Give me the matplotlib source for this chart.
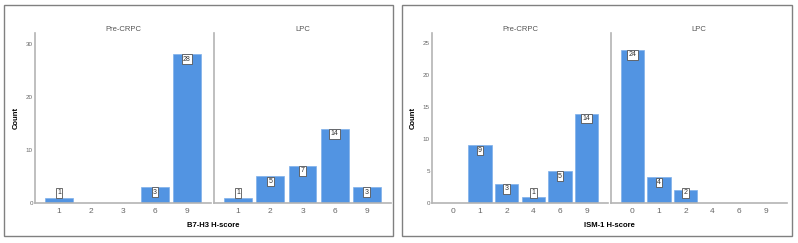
import matplotlib.pyplot as plt
from matplotlib.patches import Rectangle

plt.rcParams["font.family"] = ["Liberation Sans", "DejaVu Sans"]

# B7-H3 H-score counts
b7_cats = ["1", "2", "3", "6", "9"]
b7_pre = [1, 0, 0, 3, 28]
b7_lpc = [1, 5, 7, 14, 3]

# ISM-1 H-score counts
ism_cats = ["0", "1", "2", "4", "6", "9"]
ism_pre = [0, 9, 3, 1, 5, 14]
ism_lpc = [24, 4, 2, 0, 0, 0]

groups = ["Pre-CRPC", "LPC"]

BAR = "#5294e2"
SPINE = "#b4b4b4"
W, H = 798, 243
AX_TOP, AX_BOT = 33, 203

fig = plt.figure(figsize=(W / 100, H / 100), dpi=100)


def px_axes(x0, x1, y0, y1):
    return fig.add_axes([x0 / W, 1 - y1 / H, (x1 - x0) / W, (y1 - y0) / H])


def draw_panel(x_axes, cats, series, ymax, yticks, xlabel, bw, pad):
    px_per_unit = (AX_BOT - AX_TOP) / ymax
    for k, (xa, vals) in enumerate(zip(x_axes, series)):
        ax = px_axes(xa[0], xa[1], AX_TOP, AX_BOT)
        pos = list(range(len(cats)))
        ax.bar(pos, vals, width=bw, color=BAR, edgecolor="#7fb0ea", linewidth=0.5)
        for p, v in zip(pos, vals):
            if v > 0:
                # label sits just under the bar top, but never below ~10px above baseline
                off_px = max(-5, 10 - v * px_per_unit)
                ax.annotate(str(v), (p, v), xytext=(0, off_px * 0.72),
                            textcoords="offset points",
                            ha="center", va="center", fontsize=5, color="#333333",
                            bbox=dict(boxstyle="square,pad=0.2", fc="white",
                                      ec="#555555", lw=0.6))
        ax.set_xlim(-pad, len(cats) - 1 + pad)
        ax.set_ylim(0, ymax)
        ax.set_xticks(pos)
        ax.set_xticklabels(cats)
        ax.set_yticks(yticks)
        ax.tick_params(length=0, labelsize=6, colors="#666666", pad=3.5)
        ax.tick_params(axis="y", labelsize=4.5, pad=1.5)
        if k > 0:
            ax.set_yticklabels([])
        for s in ["top", "right"]:
            ax.spines[s].set_visible(False)
        for s in ["left", "bottom"]:
            ax.spines[s].set_color(SPINE)
            ax.spines[s].set_linewidth(1.2)
        ax.set_title(groups[k], fontsize=5.5, color="#555555", pad=1.5)
        ax.patch.set_alpha(0)
    mid = (x_axes[0][0] + x_axes[1][1]) / 2
    fig.text(mid / W, 1 - 225 / H, xlabel, ha="center", va="center",
             fontsize=5.5, fontweight="bold")
    fig.text((x_axes[0][0] - 19) / W, 1 - 118 / H, "Count", ha="center", va="center",
             rotation=90, fontsize=5.5, fontweight="bold")


draw_panel([(35, 211), (214, 391)], b7_cats, [b7_pre, b7_lpc], 32, [0, 10, 20, 30],
           "B7-H3 H-score", 0.87, 0.75)
draw_panel([(432, 608), (611, 787)], ism_cats, [ism_pre, ism_lpc], 26.6,
           [0, 5, 10, 15, 20, 25], "ISM-1 H-score", 0.87, 0.8)

for x0, x1 in [(4, 393), (402, 792)]:
    fig.patches.append(Rectangle((x0 / W, 1 - 236 / H), (x1 - x0) / W, 231 / H,
                                 transform=fig.transFigure, fill=False,
                                 ec="#808080", lw=1.0))

fig.savefig("out.png", dpi=100)
